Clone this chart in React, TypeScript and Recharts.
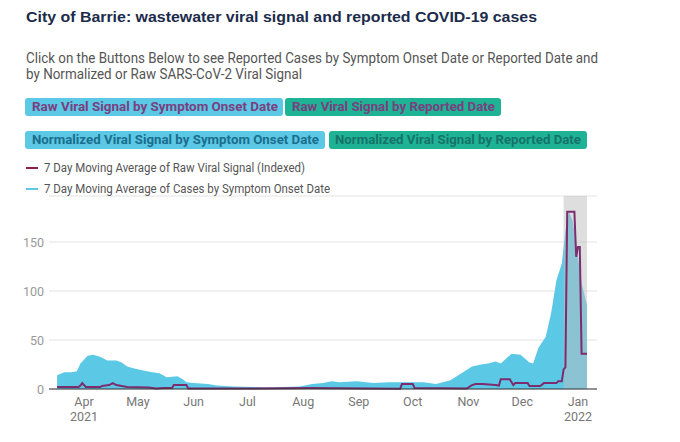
import React from "react";
import {
  ComposedChart,
  Area,
  Line,
  XAxis,
  YAxis,
  CartesianGrid,
  ReferenceArea,
} from "recharts";

// 7 day moving average of cases by symptom onset date
const caseDates = [
  "2021-03-17", "2021-03-21", "2021-03-25", "2021-03-28", "2021-03-30",
  "2021-04-03", "2021-04-06", "2021-04-10", "2021-04-14", "2021-04-19",
  "2021-04-22", "2021-04-25", "2021-04-29", "2021-05-04", "2021-05-09",
  "2021-05-13", "2021-05-17", "2021-05-23", "2021-05-26", "2021-05-28",
  "2021-06-01", "2021-06-09", "2021-06-14", "2021-06-23", "2021-07-05",
  "2021-07-12", "2021-07-20", "2021-07-30", "2021-08-06", "2021-08-12",
  "2021-08-17", "2021-08-21", "2021-08-31", "2021-09-09", "2021-09-18",
  "2021-09-28", "2021-10-07", "2021-10-14", "2021-10-22", "2021-10-29",
  "2021-11-03", "2021-11-08", "2021-11-12", "2021-11-16", "2021-11-19",
  "2021-11-25", "2021-11-30", "2021-12-05", "2021-12-07", "2021-12-10",
  "2021-12-14", "2021-12-17", "2021-12-20", "2021-12-23", "2021-12-25",
  "2021-12-27", "2021-12-29", "2022-01-01", "2022-01-03", "2022-01-06",
];
const caseValues = [
  14, 17, 17, 18, 26,
  34, 35, 33, 29, 29,
  27, 23, 21, 19, 17,
  16, 12, 13, 10, 7,
  6, 5, 3.5, 2.5, 2,
  1.5, 2, 2.5, 5, 6,
  8, 7, 8, 6, 7,
  7, 7, 5, 9, 17,
  23, 25, 26, 28, 26,
  36, 35, 27, 26, 42,
  53, 77, 111, 128, 162,
  181, 172, 135, 108, 86,
];

// 7 day moving average of raw viral signal (indexed)
const viralDates = [
  "2021-03-17", "2021-03-29", "2021-03-30", "2021-03-31", "2021-04-02",
  "2021-04-10", "2021-04-11", "2021-04-15", "2021-04-17", "2021-04-19",
  "2021-04-25", "2021-05-07", "2021-05-11", "2021-05-15", "2021-05-20",
  "2021-05-21", "2021-05-28", "2021-05-29", "2021-07-01", "2021-08-05",
  "2021-09-24", "2021-09-25", "2021-10-01", "2021-10-02", "2021-10-31",
  "2021-11-03", "2021-11-05", "2021-11-09", "2021-11-16", "2021-11-18",
  "2021-11-19", "2021-11-24", "2021-11-26", "2021-11-27", "2021-12-04",
  "2021-12-05", "2021-12-11", "2021-12-13", "2021-12-20", "2021-12-21",
  "2021-12-23", "2021-12-24", "2021-12-25", "2021-12-26", "2021-12-30",
  "2021-12-31", "2022-01-01", "2022-01-02", "2022-01-03", "2022-01-06",
];
const viralValues = [
  2, 2, 3.5, 6, 2,
  2, 3, 4, 6, 4,
  2, 1.5, 0.5, 1, 1,
  4, 4, 0.5, 0.5, 1,
  0.3, 5, 5, 1, 0.5,
  4, 5, 5, 4, 3.5,
  10, 10, 4, 6, 6,
  3, 3, 6, 6, 8,
  8, 20, 22, 181, 181,
  135, 145, 145, 36, 36,
];

const monthTicks = [
  "2021-04-01", "2021-05-01", "2021-06-01", "2021-07-01", "2021-08-01",
  "2021-09-01", "2021-10-01", "2021-11-01", "2021-12-01", "2022-01-01",
];
const monthNames = ["Jan", "Feb", "Mar", "Apr", "May", "Jun", "Jul", "Aug", "Sep", "Oct", "Nov", "Dec"];
const yTicks = [0, 50, 100, 150];

const t = (s: string) => Date.parse(s + "T00:00:00Z");

const caseData = caseDates.map((d, i) => ({ x: t(d), cases: caseValues[i] }));
const viralData = viralDates.map((d, i) => ({ x: t(d), viral: viralValues[i] }));

const X_MIN = Date.UTC(2021, 2, 12, 12);
const X_MAX = Date.UTC(2022, 0, 11, 14);

const CYAN = "#5bc8e6";
const TEAL = "#1db394";
const PURPLE = "#7b2d6e";

const XTick = (props: any) => {
  const { x, y, payload } = props;
  const d = new Date(payload.value);
  const m = d.getUTCMonth();
  const showYear = m === 0 || (m === 3 && d.getUTCFullYear() === 2021);
  return (
    <g>
      <text x={x} y={y + 9} textAnchor="middle" fill="#777" fontSize={12.5} fontFamily="Roboto">
        {monthNames[m]}
      </text>
      {showYear && (
        <text x={x} y={y + 24} textAnchor="middle" fill="#777" fontSize={12.5} fontFamily="Roboto">
          {d.getUTCFullYear()}
        </text>
      )}
    </g>
  );
};

const YTick = (props: any) => {
  const { y, payload } = props;
  return (
    <text x={44} y={y + 4.5} textAnchor="end" fill="#999" fontSize={12.5} fontFamily="Roboto">
      {payload.value}
    </text>
  );
};

function Header() {
  return (
    <svg width={680} height={200} style={{ position: "absolute", left: 0, top: 0, zIndex: 2 }}>
      <text x={26} y={22} fontFamily="Liberation Sans, Arial" fontWeight="bold" fontSize={15.5} fill="#1c2b4b" textLength={511} lengthAdjust="spacingAndGlyphs">
        City of Barrie: wastewater viral signal and reported COVID-19 cases
      </text>
      <text x={26} y={63} fontFamily="Roboto" fontSize={14} fill="#555" textLength={572} lengthAdjust="spacingAndGlyphs">
        Click on the Buttons Below to see Reported Cases by Symptom Onset Date or Reported Date and
      </text>
      <text x={26} y={79} fontFamily="Roboto" fontSize={14} fill="#555" textLength={276} lengthAdjust="spacingAndGlyphs">
        by Normalized or Raw SARS-CoV-2 Viral Signal
      </text>

      <rect x={25} y={98} width={258} height={18} rx={3} fill={CYAN} />
      <text x={32} y={111} fontFamily="Roboto" fontWeight="bold" fontSize={13.5} fill="#7a4080" textLength={246} lengthAdjust="spacingAndGlyphs">
        Raw Viral Signal by Symptom Onset Date
      </text>
      <rect x={285} y={98} width={216} height={18} rx={3} fill={TEAL} />
      <text x={292} y={111} fontFamily="Roboto" fontWeight="bold" fontSize={13.5} fill="#7a4080" textLength={203} lengthAdjust="spacingAndGlyphs">
        Raw Viral Signal by Reported Date
      </text>

      <rect x={25} y={131} width={300} height={18} rx={3} fill={CYAN} />
      <text x={32} y={144} fontFamily="Roboto" fontWeight="bold" fontSize={13.5} fill="#1b6e8c" textLength={287} lengthAdjust="spacingAndGlyphs">
        Normalized Viral Signal by Symptom Onset Date
      </text>
      <rect x={329} y={131} width={258} height={18} rx={3} fill={TEAL} />
      <text x={335} y={144} fontFamily="Roboto" fontWeight="bold" fontSize={13.5} fill="#17736a" textLength={246} lengthAdjust="spacingAndGlyphs">
        Normalized Viral Signal by Reported Date
      </text>

      <line x1={26} x2={38} y1={168} y2={168} stroke="#8e1f4f" strokeWidth={2} />
      <text x={44} y={172} fontFamily="Roboto" fontSize={12.5} fill="#555" textLength={261} lengthAdjust="spacingAndGlyphs">
        7 Day Moving Average of Raw Viral Signal (Indexed)
      </text>
      <line x1={26} x2={38} y1={189} y2={189} stroke={CYAN} strokeWidth={2} />
      <text x={44} y={193} fontFamily="Roboto" fontSize={12.5} fill="#555" textLength={286} lengthAdjust="spacingAndGlyphs">
        7 Day Moving Average of Cases by Symptom Onset Date
      </text>
    </svg>
  );
}

export default function App() {
  return (
    <div style={{ position: "absolute", left: 0, top: 0, width: 680, height: 442, background: "#fff" }}>
      <Header />
      <div style={{ position: "absolute", left: 0, top: 0 }}>
        <ComposedChart width={680} height={442} margin={{ top: 196, right: 83, bottom: 13, left: 0 }}>
          <CartesianGrid vertical={false} stroke="#e3e3e3" />
          <XAxis
            dataKey="x"
            type="number"
            domain={[X_MIN, X_MAX]}
            ticks={monthTicks.map(t)}
            interval={0}
            allowDataOverflow
            tick={<XTick />}
            tickLine={false}
            axisLine={{ stroke: "#333" }}
            height={40}
          />
          <YAxis
            type="number"
            domain={[0, 197]}
            ticks={yTicks}
            tick={<YTick />}
            axisLine={false}
            tickLine={false}
            width={49}
          />
          <Area
            data={caseData}
            dataKey="cases"
            type="linear"
            stroke="none"
            fill={CYAN}
            fillOpacity={1}
            isAnimationActive={false}
          />
          <ReferenceArea x1={t("2021-12-24")} x2={t("2022-01-06")} y1={0} y2={197} fill="#bdbdbd" fillOpacity={0.5} stroke="none" />
          <Line
            data={viralData}
            dataKey="viral"
            type="linear"
            stroke={PURPLE}
            strokeWidth={2}
            dot={false}
            isAnimationActive={false}
          />
        </ComposedChart>
      </div>
    </div>
  );
}
